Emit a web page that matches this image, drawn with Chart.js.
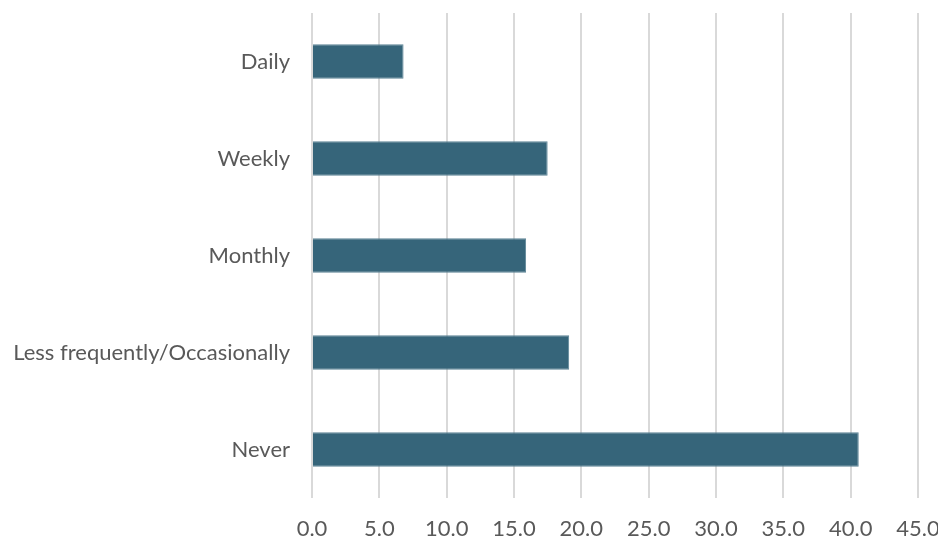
<!DOCTYPE html>
<html>
<head>
<meta charset="utf-8">
<script src="https://cdn.jsdelivr.net/npm/chart.js@4/dist/chart.umd.min.js"></script>
<style>
  html, body { margin: 0; padding: 0; background: #fff; }
  #wrap { width: 938px; height: 539px; }
</style>
</head>
<body>
<div id="wrap"><canvas id="freqChart"></canvas></div>
<script>
const categories = ['Daily', 'Weekly', 'Monthly', 'Less frequently/Occasionally', 'Never'];
const values = [6.8, 17.5, 15.9, 19.1, 40.6];
const xMax = 45;

document.addEventListener('DOMContentLoaded', () => {
    const ctx = document.getElementById('freqChart').getContext('2d');
    new Chart(ctx, {
        type: 'bar',
        data: {
            labels: categories,
            datasets: [{
                data: values,
                backgroundColor: '#36657a',
                borderColor: '#5c8496',
                borderWidth: 1,
                barPercentage: 0.355,
                categoryPercentage: 1
            }]
        },
        options: {
            indexAxis: 'y',
            responsive: true,
            maintainAspectRatio: false,
            animation: false,
            layout: { padding: { top: 13, left: 10, right: 20, bottom: 0 } },
            plugins: {
                legend: { display: false },
                tooltip: { enabled: false }
            },
            scales: {
                x: {
                    min: 0,
                    max: xMax,
                    ticks: {
                        stepSize: 5,
                        color: '#595959',
                        font: { family: 'Lato', size: 22 },
                        padding: 18,
                        callback: v => v.toFixed(1)
                    },
                    grid: { color: '#d9d9d9', lineWidth: 2, drawTicks: false },
                    border: { display: false },
                    afterFit: scale => {
                        scale.height = 41;
                        scale.paddingLeft = 0;
                        scale.paddingRight = 0;
                    }
                },
                y: {
                    ticks: {
                        color: '#595959',
                        font: { family: 'Lato', size: 22 },
                        padding: 22
                    },
                    grid: { display: false, drawTicks: false },
                    border: { display: false },
                    afterFit: scale => {
                        scale.width = 302;
                        scale.paddingTop = 0;
                        scale.paddingBottom = 0;
                    }
                }
            }
        }
    });
});
</script>
</body>
</html>
